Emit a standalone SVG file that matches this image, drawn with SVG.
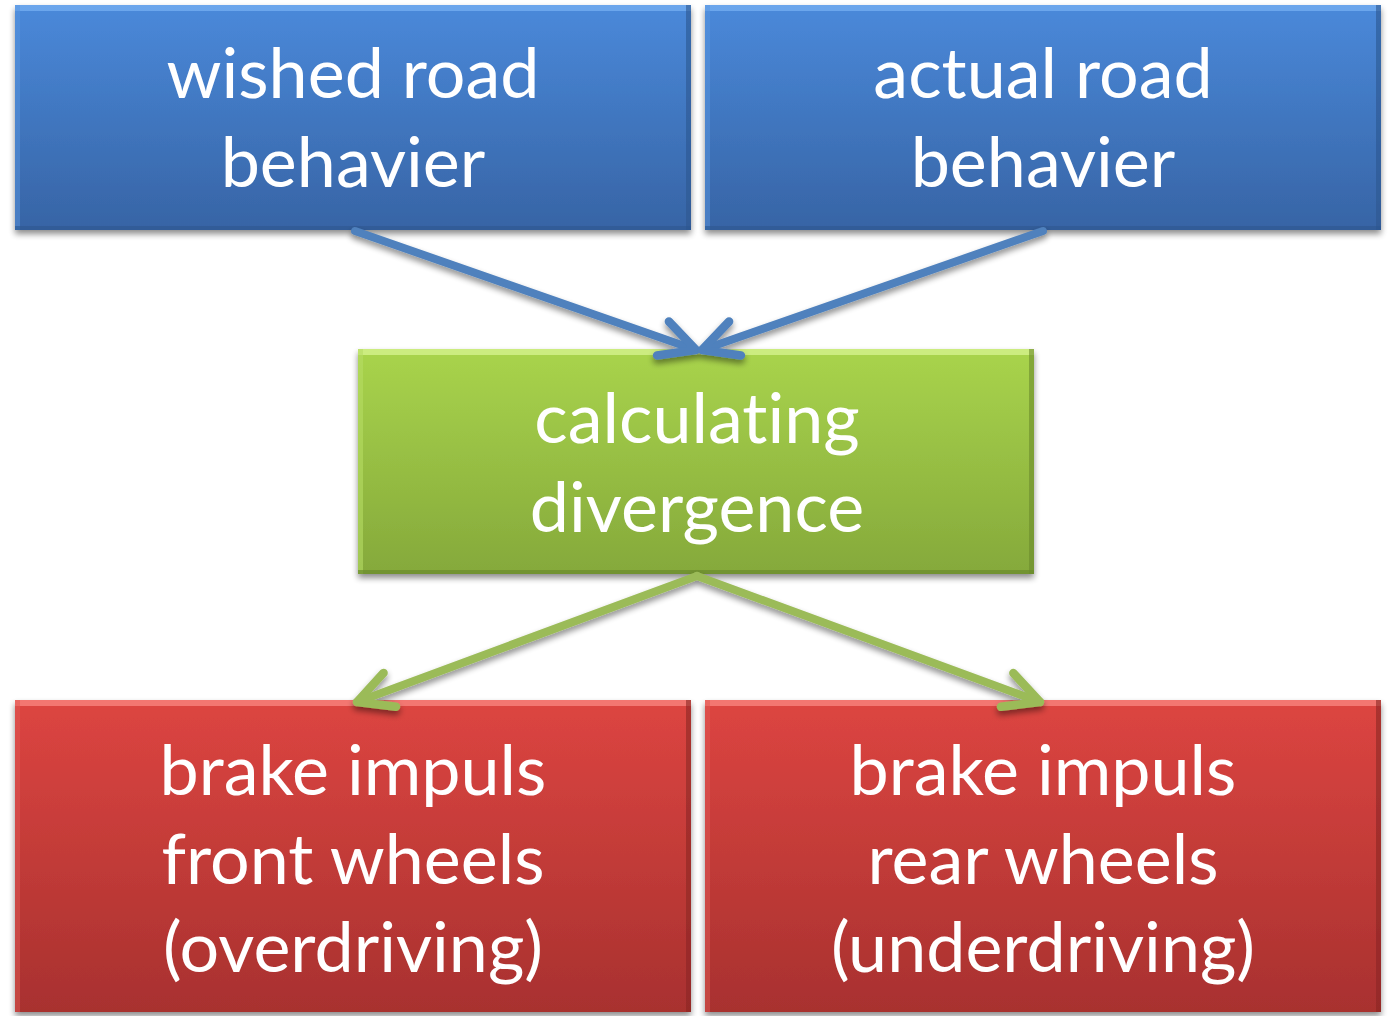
<svg xmlns="http://www.w3.org/2000/svg" width="1389" height="1016" viewBox="0 0 1389 1016">
<defs>
  <linearGradient id="gBlue" x1="0" y1="0" x2="0" y2="1">
    <stop offset="0" stop-color="#4a89da"/>
    <stop offset="1" stop-color="#3764a5"/>
  </linearGradient>
  <linearGradient id="gGreen" x1="0" y1="0" x2="0" y2="1">
    <stop offset="0" stop-color="#a9d44c"/>
    <stop offset="1" stop-color="#85a93b"/>
  </linearGradient>
  <linearGradient id="gRed" x1="0" y1="0" x2="0" y2="1">
    <stop offset="0" stop-color="#dd4541"/>
    <stop offset="1" stop-color="#a8312f"/>
  </linearGradient>
  <filter id="shadow" x="-10%" y="-10%" width="120%" height="130%">
    <feGaussianBlur in="SourceAlpha" stdDeviation="3"/>
    <feOffset dx="0" dy="4" result="b"/>
    <feComponentTransfer><feFuncA type="linear" slope="0.45"/></feComponentTransfer>
    <feMerge><feMergeNode/><feMergeNode in="SourceGraphic"/></feMerge>
  </filter>
  <marker id="headBlue" markerUnits="userSpaceOnUse" markerWidth="70" markerHeight="70" refX="50" refY="35" orient="auto" viewBox="0 0 70 70">
    <path d="M15,17 L50,35 L15,53" fill="none" stroke="#4f81bd" stroke-width="8.5" stroke-linecap="round" stroke-linejoin="round"/>
  </marker>
  <marker id="headGreen" markerUnits="userSpaceOnUse" markerWidth="70" markerHeight="70" refX="50" refY="35" orient="auto" viewBox="0 0 70 70">
    <path d="M15,17 L50,35 L15,53" fill="none" stroke="#9bbb59" stroke-width="8.5" stroke-linecap="round" stroke-linejoin="round"/>
  </marker>
</defs>
<style>
  .lbl { font-family: Lato, "Liberation Sans", sans-serif; font-size: 70px; fill: #ffffff; text-anchor: middle; font-variant-ligatures: none; }
  .edge { fill: none; stroke-width: 8; stroke-linecap: round; }
  .blueE { stroke: #4f81bd; }
  .greenE { stroke: #9bbb59; }
</style>
<rect width="1389" height="1016" fill="#ffffff"/>

<g id="wished" filter="url(#shadow)">
  <rect x="15" y="5" width="676" height="225" fill="url(#gBlue)"/>
  <rect x="15" y="5" width="676" height="6" fill="#74aef0" opacity="0.8"/>
  <rect x="15" y="5" width="5" height="225" fill="#5a96e0" opacity="0.5"/>
  <rect x="686" y="5" width="5" height="225" fill="#2c5690" opacity="0.6"/>
  <rect x="15" y="226" width="676" height="4" fill="#2c5690" opacity="0.6"/>
  <text class="lbl" x="353" y="98">wished road</text>
  <text class="lbl" x="353" y="187">behavier</text>
</g>

<g id="actual" filter="url(#shadow)">
  <rect x="705" y="5" width="676" height="225" fill="url(#gBlue)"/>
  <rect x="705" y="5" width="676" height="6" fill="#74aef0" opacity="0.8"/>
  <rect x="705" y="5" width="5" height="225" fill="#5a96e0" opacity="0.5"/>
  <rect x="1376" y="5" width="5" height="225" fill="#2c5690" opacity="0.6"/>
  <rect x="705" y="226" width="676" height="4" fill="#2c5690" opacity="0.6"/>
  <text class="lbl" x="1043" y="98">actual road</text>
  <text class="lbl" x="1043" y="187">behavier</text>
</g>

<g id="calculating" filter="url(#shadow)">
  <rect x="358" y="349" width="676" height="225" fill="url(#gGreen)"/>
  <rect x="358" y="349" width="676" height="6" fill="#d2f08a" opacity="0.85"/>
  <rect x="358" y="349" width="5" height="225" fill="#b6dc64" opacity="0.6"/>
  <rect x="1029" y="349" width="5" height="225" fill="#6a8a2c" opacity="0.6"/>
  <rect x="358" y="570" width="676" height="4" fill="#6a8a2c" opacity="0.7"/>
  <text class="lbl" x="697" y="443">calculating</text>
  <text class="lbl" x="697" y="532">divergence</text>
</g>

<g id="front" filter="url(#shadow)">
  <rect x="15" y="700" width="676" height="312" fill="url(#gRed)"/>
  <rect x="15" y="700" width="676" height="6" fill="#f7807a" opacity="0.85"/>
  <rect x="15" y="700" width="5" height="312" fill="#e05a55" opacity="0.5"/>
  <rect x="686" y="700" width="5" height="312" fill="#8a2624" opacity="0.6"/>
  <text class="lbl" x="353" y="795">brake impuls</text>
  <text class="lbl" x="353" y="884">front wheels</text>
  <text class="lbl" x="353" y="972">(overdriving)</text>
</g>

<g id="rear" filter="url(#shadow)">
  <rect x="705" y="700" width="676" height="312" fill="url(#gRed)"/>
  <rect x="705" y="700" width="676" height="6" fill="#f7807a" opacity="0.85"/>
  <rect x="705" y="700" width="5" height="312" fill="#e05a55" opacity="0.5"/>
  <rect x="1376" y="700" width="5" height="312" fill="#8a2624" opacity="0.6"/>
  <text class="lbl" x="1043" y="795">brake impuls</text>
  <text class="lbl" x="1043" y="884">rear wheels</text>
  <text class="lbl" x="1043" y="972">(underdriving)</text>
</g>

<g id="connectors" filter="url(#shadow)">
  <path class="edge blueE" d="M355,231 L696,350" marker-end="url(#headBlue)"/>
  <path class="edge blueE" d="M1043,231 L702,350" marker-end="url(#headBlue)"/>
  <path class="edge greenE" d="M697,576 L357,702" marker-end="url(#headGreen)"/>
  <path class="edge greenE" d="M697,576 L1040,702" marker-end="url(#headGreen)"/>
</g>
</svg>
